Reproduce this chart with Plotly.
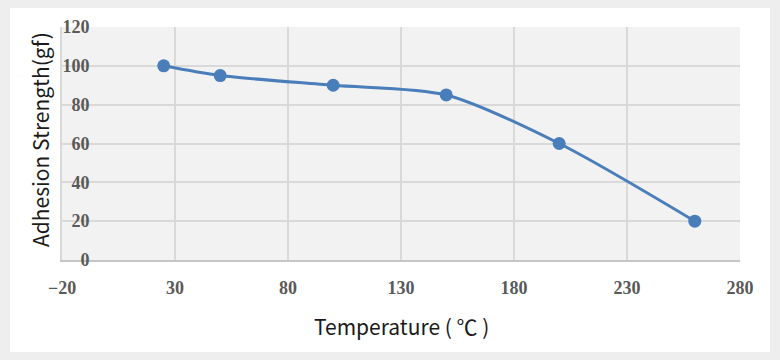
import plotly.graph_objects as go

temperature = [25, 50, 100, 150, 200, 260]
adhesion = [100, 95, 90, 85, 60, 20]
x_ticks = [-20, 30, 80, 130, 180, 230, 280]
y_ticks = [0, 20, 40, 60, 80, 100, 120]

fig = go.Figure()
fig.add_trace(go.Scatter(
    x=temperature, y=adhesion, mode="lines+markers",
    line=dict(color="#4a7ebb", width=3, shape="spline", smoothing=0.8),
    marker=dict(color="#4a7ebb", size=13),
    showlegend=False,
))

W, H = 780, 360
L, R, T, B = 62, 40, 27, 100
pw, ph = W - L - R, H - T - B

def px(x):
    return (x - L) / pw

def py(y):
    return (H - B - y) / ph

title_font = dict(family="Noto Sans CJK SC", size=21, color="#1a1a1a")
tick_font = dict(family="Liberation Serif", size=18, color="#595959", weight="bold")

fig.update_layout(
    width=W, height=H,
    margin=dict(l=L, r=R, t=T, b=B),
    paper_bgcolor="#eeeeee",
    plot_bgcolor="#f2f2f2",
    shapes=[
        dict(type="rect", xref="paper", yref="paper", layer="below",
             x0=px(10), x1=px(770), y0=py(352), y1=py(8),
             fillcolor="white", line=dict(width=0)),
        dict(type="rect", xref="paper", yref="paper", layer="below",
             x0=0, x1=1, y0=0, y1=1,
             fillcolor="#f2f2f2", line=dict(width=0)),
    ],
    annotations=[
        dict(text="Temperature ( ℃ )", xref="paper", yref="paper",
             x=0.5, y=py(326), xanchor="center", yanchor="middle",
             showarrow=False, font=title_font),
        dict(text="Adhesion Strength(gf)", xref="paper", yref="paper",
             x=px(40), y=py(140), xanchor="center", yanchor="middle", textangle=-90,
             showarrow=False, font=title_font),
    ],
    xaxis=dict(
        range=[-20, 280], tickvals=x_ticks, ticktext=[("−20" if v < 0 else str(v)) for v in x_ticks],
        showgrid=True, gridcolor="#d9d9d9", gridwidth=2,
        showline=True, linecolor="#c6c6c6", linewidth=2, mirror=False,
        zeroline=False, ticks="",
        tickfont=tick_font,
        ticklabelstandoff=10,
    ),
    yaxis=dict(
        range=[0, 120], tickvals=y_ticks,
        showgrid=True, gridcolor="#d9d9d9", gridwidth=2,
        showline=True, linecolor="#d9d9d9", linewidth=2,
        zeroline=False, ticks="",
        tickfont=tick_font,
        ticklabelstandoff=-33,
    ),
)

fig.write_html("out.html", config={"displayModeBar": False},
               post_script="document.body.style.margin='0';document.body.style.overflow='hidden';")
